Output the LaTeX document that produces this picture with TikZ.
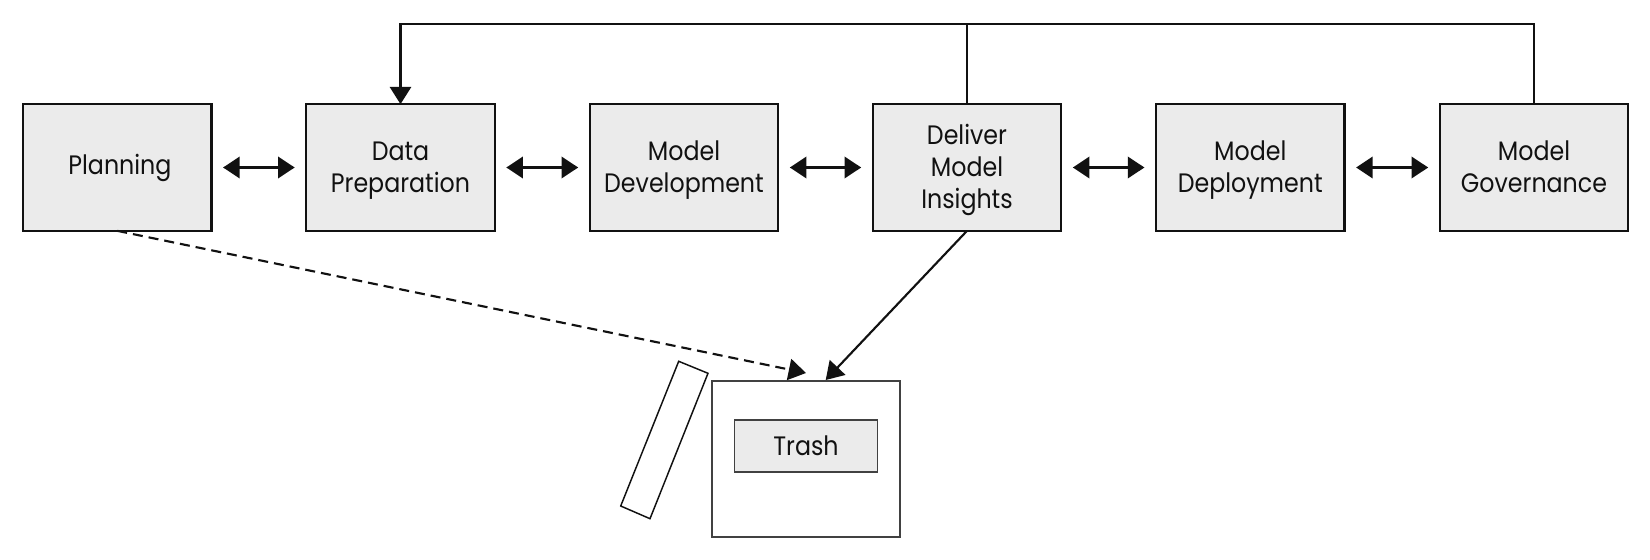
\documentclass[tikz,border=0pt]{standalone}
\usepackage{fontspec}
\setmainfont{Poppins}[FakeStretch=0.89]
\usetikzlibrary{arrows.meta,positioning}
\definecolor{boxfill}{HTML}{EBEBEB}
\definecolor{ink}{HTML}{111111}
\newcommand\lh{\rule[-5.3pt]{0pt}{24pt}}
\tikzset{
  stage/.style={draw=ink,fill=boxfill,line width=1.7pt,minimum width=141.5pt,minimum height=95pt,inner sep=0pt,outer sep=0pt,align=center,font=\fontsize{20pt}{24pt}\selectfont,text=ink},
  biarrow/.style={draw=ink,line width=2pt,{Triangle[length=12.5pt,width=16pt]}-{Triangle[length=12.5pt,width=16pt]},shorten <=8.6pt,shorten >=8.6pt},
  feed/.style={draw=ink,line width=1.6pt},
  hd/.style={-{Triangle[length=13pt,width=16pt]}},
}
\begin{document}
\begin{tikzpicture}[x=0.75pt,y=-0.75pt]
\useasboundingbox (0,0) rectangle (1650,560);
\node[stage] (plan) at (117.25,167.5) {\hspace*{4pt}Planning};
\node[stage] (data) at (400.5,167.5) {\lh Data\\\lh Preparation};
\node[stage] (dev) at (684,167.5) {\lh Model\\\lh Development};
\node[stage] (ins) at (967,167.5) {\lh Deliver\\\lh Model\\\lh Insights};
\node[stage] (dep) at (1250.25,167.5) {\lh Model\\\lh Deployment};
\node[stage] (gov) at (1534,167.5) {\lh Model\\\lh Governance};
\draw[biarrow] (plan) -- (data);
\draw[biarrow] (data) -- (dev);
\draw[biarrow] (dev) -- (ins);
\draw[biarrow] (ins) -- (dep);
\draw[biarrow] (dep) -- (gov);
\coordinate (top) at (967,23.7);
\draw[feed,hd] (gov.north) |- (top) -| (data.north);
\draw[feed] (ins.north) -- (top);
\node[draw=ink!80,line width=1.6pt,minimum width=141pt,minimum height=117pt,inner sep=0pt,outer sep=0pt] (bin) at (806,459) {};
\node[draw=ink!80,fill=boxfill,line width=1.1pt,minimum width=107pt,minimum height=38.8pt,inner sep=0pt,outer sep=0pt,font=\fontsize{20pt}{24pt}\selectfont,text=ink] (trash) at (806,446) {Trash};
\coordinate (dashend) at (806,373);
\coordinate (solidend) at (825.7,380);
\draw[draw=ink,line width=1.6pt,dash pattern=on 7.5pt off 4.5pt,hd] (plan.south) -- (dashend);
\draw[feed,hd] (ins.south) -- (solidend);
\draw[draw=ink,line width=1.1pt] (678.7,361.3) -- (708,373.3) -- (650,518.7) -- (620.7,506) -- cycle;
\end{tikzpicture}
\end{document}
